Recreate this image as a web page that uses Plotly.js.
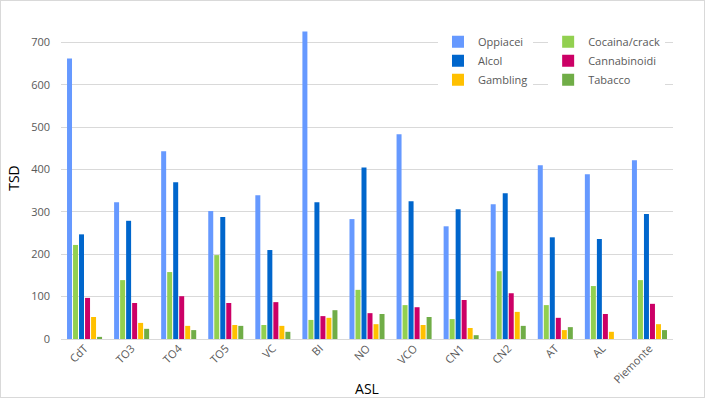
<!DOCTYPE html>
<html><head><meta charset="utf-8">
<script src="https://cdn.plot.ly/plotly-3.0.1.min.js"></script>
<style>
html,body{margin:0;padding:0;background:#fff;}
#wrap{position:relative;width:705px;height:398px;}
#chart{width:705px;height:398px;}
#border{position:absolute;left:0;top:0;width:703px;height:396px;border:1px solid #d9d9d9;pointer-events:none;}
</style></head>
<body>
<div id="wrap"><div id="chart"></div><div id="border"></div></div>
<script>
const categories = ["CdT","TO3","TO4","TO5","VC","BI","NO","VCO","CN1","CN2","AT","AL","Piemonte"];
const oppiacei     = [662,323,443,302,339,726,283,483,266,318,410,389,422];
const cocaina      = [222,139,158,198,33,45,116,80,47,160,80,125,139];
const alcol        = [247,279,370,288,210,323,405,325,306,344,240,236,295];
const cannabinoidi = [97,85,101,85,87,54,61,75,92,108,50,59,83];
const gambling     = [52,38,31,33,31,50,35,33,26,64,21,17,35];
const tabacco      = [5,24,21,31,17,68,59,52,9,31,28,0,21];

const seriesNames = ["Oppiacei","Cocaina/crack","Alcol","Cannabinoidi","Gambling","Tabacco"];
const seriesData = [oppiacei,cocaina,alcol,cannabinoidi,gambling,tabacco];
const colors = ["#6699FF","#92D050","#0066CC","#CC0066","#FFC000","#70AD47"];
const legendOf = ["legend","legend2","legend","legend2","legend","legend2"];

const traces = seriesNames.map((n,i)=>({
  type:"bar", name:n, x:categories, y:seriesData[i],
  marker:{color:colors[i]}, legend:legendOf[i]
}));

const font = {family:"'Open Sans', 'Noto Sans', sans-serif", color:"#595959", size:11};
const legendBase = {
  orientation:"v", xanchor:"left", y:0.968, yanchor:"top",
  bgcolor:"#fff", itemwidth:30, tracegroupgap:0,
  font:{size:11,color:"#595959"}
};
const layout = {
  width:705, height:398,
  margin:{l:61, r:32, t:17, b:59, pad:0},
  paper_bgcolor:"#fff", plot_bgcolor:"#fff",
  barmode:"group", bargap:0.234, bargroupgap:0.17,
  font:font,
  xaxis:{
    tickangle:-45, showgrid:false, showline:false, zeroline:false,
    tickfont:{size:11,color:"#595959"},
    title:{text:"ASL", font:{size:14,color:"#000"}, standoff:4}
  },
  yaxis:{
    range:[0,760], tickvals:[0,100,200,300,400,500,600,700],
    showgrid:true, gridcolor:"#d9d9d9", gridwidth:1,
    zeroline:true, zerolinecolor:"#d9d9d9", zerolinewidth:1,
    showline:false, ticks:"", ticklabelstandoff:10,
    tickfont:{size:11,color:"#595959"},
    title:{text:"TSD", font:{size:14,color:"#000"}, standoff:8}
  },
  legend:Object.assign({}, legendBase, {x:0.616}),
  legend2:Object.assign({}, legendBase, {x:0.796}),
  showlegend:true
};
Plotly.newPlot("chart", traces, layout, {displayModeBar:false, staticPlot:true});
</script>
</body></html>
